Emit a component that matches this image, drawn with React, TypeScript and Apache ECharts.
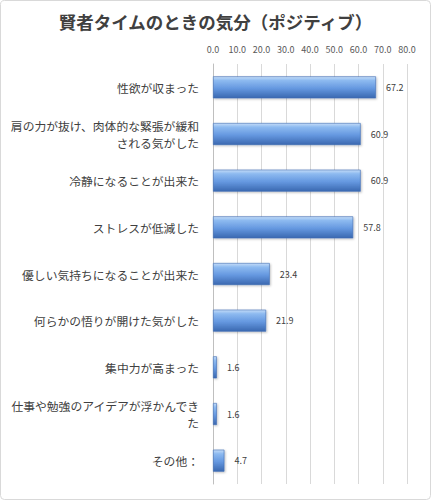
import { useEffect, useRef } from "react";
import * as echarts from "echarts";

const title = "賢者タイムのときの気分（ポジティブ）";

const categories = [
  "性欲が収まった",
  "肩の力が抜け、肉体的な緊張が緩和\nされる気がした",
  "冷静になることが出来た",
  "ストレスが低減した",
  "優しい気持ちになることが出来た",
  "何らかの悟りが開けた気がした",
  "集中力が高まった",
  "仕事や勉強のアイデアが浮かんでき\nた",
  "その他：",
];

const values = [67.2, 60.9, 60.9, 57.8, 23.4, 21.9, 1.6, 1.6, 4.7];

const FONT = '"Noto Sans CJK JP", "Noto Sans", sans-serif';

export default function App() {
  const ref = useRef<HTMLDivElement>(null);

  useEffect(() => {
    document.body.style.margin = "0";
    const el = ref.current;
    if (!el) return;
    const chart = echarts.init(el, undefined, { renderer: "svg" });
    chart.setOption({
      animation: false,
      backgroundColor: "#ffffff",
      textStyle: { fontFamily: FONT },
      title: {
        text: title,
        left: "center",
        top: 8,
        textStyle: { fontSize: 17.5, fontWeight: "bold", color: "#404040", fontFamily: FONT },
      },
      graphic: [
        {
          type: "rect",
          shape: { x: 0.5, y: 0.5, width: 430, height: 499, r: 4 },
          style: { fill: "none", stroke: "#d9d9d9", lineWidth: 1 },
          silent: true,
        },
      ],
      grid: { top: 64, left: 213, right: 24, bottom: 16 },
      xAxis: {
        type: "value",
        position: "top",
        min: 0,
        max: 80,
        interval: 10,
        axisLine: { show: false },
        axisTick: { show: false },
        axisLabel: {
          color: "#595959",
          fontSize: 9,
          margin: 10,
          formatter: (v: number) => v.toFixed(1),
        },
        splitLine: { lineStyle: { color: "#d9d9d9", width: 1 } },
      },
      yAxis: {
        type: "category",
        inverse: true,
        data: categories,
        axisLine: { show: true, lineStyle: { color: "#bfbfbf" } },
        axisTick: { show: false },
        axisLabel: {
          color: "#404040",
          fontSize: 11.8,
          lineHeight: 17,
          margin: 14,
          align: "right",
        },
      },
      series: [
        {
          type: "bar",
          data: values,
          barWidth: 22,
          itemStyle: {
            color: new echarts.graphic.LinearGradient(0, 0, 0, 1, [
              { offset: 0, color: "#c4dcf8" },
              { offset: 0.18, color: "#8dbaf0" },
              { offset: 0.55, color: "#6598e0" },
              { offset: 1, color: "#3a68b0" },
            ]),
            borderColor: "#3f6cb3",
            borderWidth: 0.6,
            shadowColor: "rgba(0,0,0,0.25)",
            shadowBlur: 2,
            shadowOffsetX: 1,
            shadowOffsetY: 1,
          },
          label: {
            show: true,
            position: "right",
            distance: 10,
            fontSize: 9,
            color: "#404040",
            formatter: (p: { value: number }) => p.value.toFixed(1),
          },
        },
      ],
    });
    return () => {
      chart.dispose();
    };
  }, []);

  return <div ref={ref} style={{ width: 431, height: 500 }} />;
}
